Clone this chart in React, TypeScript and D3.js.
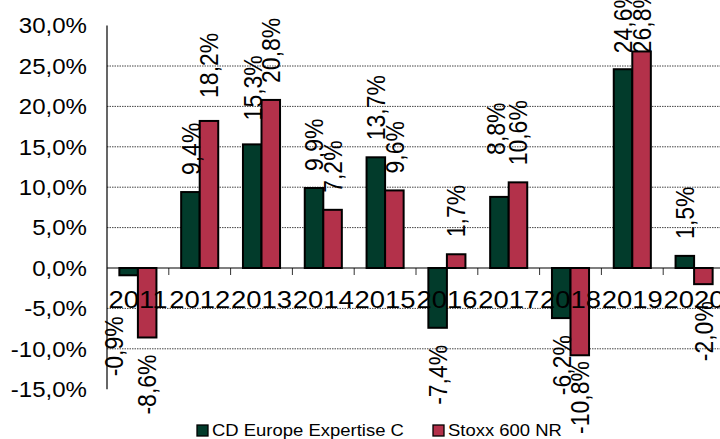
import * as d3 from 'd3';

const YEARS = ['2011', '2012', '2013', '2014', '2015', '2016', '2017', '2018', '2019', '2020'];
const FUND = [-0.9, 9.4, 15.3, 9.9, 13.7, -7.4, 8.8, -6.2, 24.6, 1.5];
const STOXX = [-8.6, 18.2, 20.8, 7.2, 9.6, 1.7, 10.6, -10.8, 26.8, -2.0];
const SERIES_NAMES = ['CD Europe Expertise C', 'Stoxx 600 NR'];
const Y_TICKS = [-15, -10, -5, 0, 5, 10, 15, 20, 25, 30];

const WIDTH = 720;
const HEIGHT = 439;
const MARGIN = { left: 107, top: 25.6, bottom: 389.2 };
const CAT_STEP = 61.8;
const SX = 1.12; // the source picture is a bit stretched horizontally
const FONT = "'Liberation Sans', Arial, sans-serif";
const COLORS = ['#023b2b', '#b3314a'];

// a few labels were moved by hand in the original
const LABEL_NUDGE: Record<string, { dx?: number; dy?: number }> = {
    'fund-2011': { dx: -15, dy: 24 },
    'fund-2017': { dx: -4, dy: 25 },
    'stoxx-2012': { dy: 6 },
    'fund-2013': { dy: 7 },
};

const fmt = (v: number) => v.toFixed(1).replace('.', ',') + '%';

let measureCtx: CanvasRenderingContext2D | null = null;
function textLen(s: string, size: number) {
    if (!measureCtx) measureCtx = document.createElement('canvas').getContext('2d');
    measureCtx!.font = `${size}px 'Liberation Sans'`;
    return measureCtx!.measureText(s).width;
}

const App = () => {
    const y = d3.scaleLinear().domain([-15, 30]).range([MARGIN.bottom, MARGIN.top]);
    const x0 = d3.scaleBand().domain(YEARS).range([MARGIN.left, MARGIN.left + CAT_STEP * YEARS.length]);
    const x1 = d3.scaleBand().domain(['fund', 'stoxx']).range([0, x0.bandwidth()]).paddingOuter(2 / 3);
    const y0 = y(0);

    const series = [
        { key: 'fund', values: FUND, color: COLORS[0] },
        { key: 'stoxx', values: STOXX, color: COLORS[1] },
    ];

    const labelSize = 23;
    const labels = series.flatMap((s) =>
        s.values.map((v, i) => {
            const year = YEARS[i];
            const nudge = LABEL_NUDGE[`${s.key}-${year}`] || {};
            const cx = x0(year)! + x1(s.key)! + x1.bandwidth() / 2 + (nudge.dx || 0);
            const txt = fmt(v);
            const len = textLen(txt, labelSize);
            const gap = 17 + (nudge.dy || 0);
            if (v >= 0) {
                let bottom = y(v) - gap;
                if (bottom - len < -12) bottom = -12 + len;
                return { key: `${s.key}-${year}`, cx, ay: bottom, anchor: 'start', txt };
            }
            let top = y(v) + gap;
            if (top + len > 434) top = 434 - len;
            return { key: `${s.key}-${year}`, cx, ay: top, anchor: 'end', txt };
        })
    );

    const gridTicks = Y_TICKS.filter((t) => t !== 0 && t !== 30 && t !== -15);

    return (
        <svg
            width={WIDTH}
            height={HEIGHT}
            style={{ position: 'absolute', left: 0, top: 0, display: 'block', background: '#fff' }}
            fontFamily={FONT}
        >
            {/* grid */}
            {gridTicks.map((t) => (
                <line key={t} x1={MARGIN.left} x2={WIDTH} y1={y(t)} y2={y(t)}
                    stroke="#444" strokeWidth={1} strokeDasharray="1.5,1" />
            ))}

            {/* y tick labels */}
            {Y_TICKS.map((t) => (
                <text key={t} transform={`translate(87,${y(t)}) scale(${SX},1)`} dy="0.36em"
                    textAnchor="end" fontSize={21.5} fill="#000">{fmt(t)}</text>
            ))}

            {/* category ticks */}
            {YEARS.map((yr) => (
                <line key={yr} x1={x0(yr)! + CAT_STEP} x2={x0(yr)! + CAT_STEP} y1={y0} y2={y0 + 7}
                    stroke="#333" strokeWidth={1} />
            ))}

            {/* bars */}
            {series.map((s) => (
                <g key={s.key}>
                    {s.values.map((v, i) => (
                        <rect key={i}
                            x={x0(YEARS[i])! + x1(s.key)!}
                            y={Math.min(y(v), y0)}
                            width={x1.bandwidth()}
                            height={Math.abs(y(v) - y0)}
                            fill={s.color} stroke="#000" strokeWidth={2} />
                    ))}
                </g>
            ))}

            {/* axes */}
            <line x1={MARGIN.left} x2={MARGIN.left} y1={MARGIN.top} y2={MARGIN.bottom} stroke="#000" strokeWidth={1.2} />
            <line x1={MARGIN.left} x2={WIDTH} y1={y0} y2={y0} stroke="#000" strokeWidth={1.2} />

            {/* category labels */}
            {YEARS.map((yr) => (
                <text key={yr} transform={`translate(${x0(yr)! + CAT_STEP / 2},308) scale(${SX},1)`}
                    textAnchor="middle" fontSize={24.5} fill="#000">{yr}</text>
            ))}

            {/* data labels */}
            {labels.map((l) => (
                <text key={l.key} transform={`translate(${l.cx},${l.ay}) scale(${SX},1) rotate(-90)`}
                    dy="0.36em" textAnchor={l.anchor} fontSize={labelSize} fill="#000">{l.txt}</text>
            ))}

            {/* legend */}
            {SERIES_NAMES.map((name, i) => {
                const lx = [197, 433][i];
                return (
                    <g key={name}>
                        <rect x={lx} y={425} width={11} height={11} fill={COLORS[i]} stroke="#000" strokeWidth={1.3} />
                        <text transform={`translate(${lx + 15},436) scale(${SX},1)`} fontSize={16.5} fill="#000">{name}</text>
                    </g>
                );
            })}
        </svg>
    );
};

export default App;
